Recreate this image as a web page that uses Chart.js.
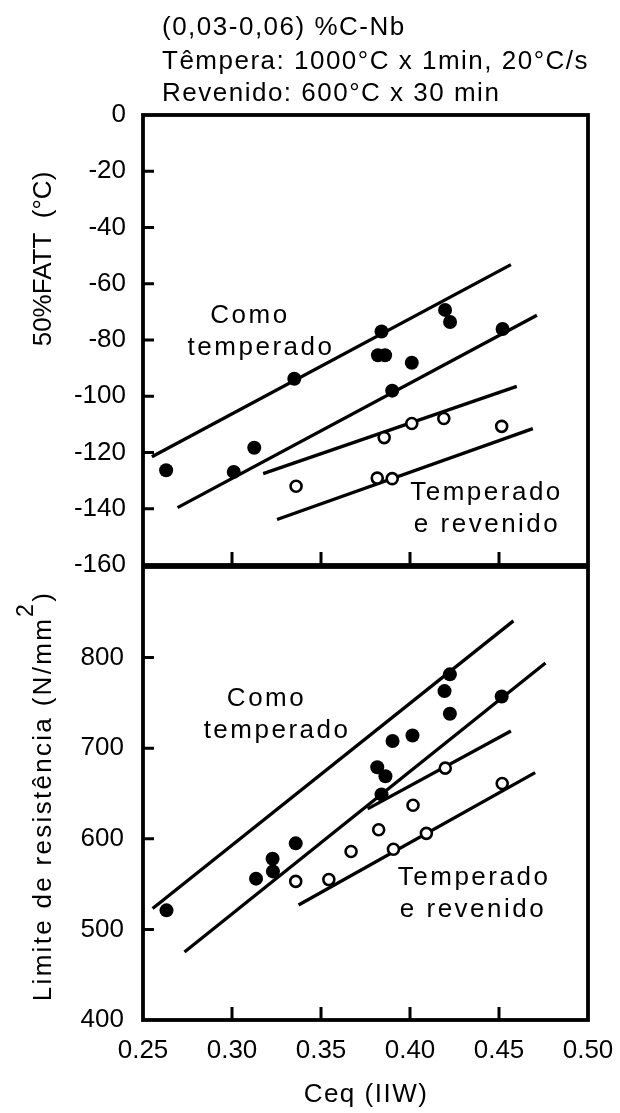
<!DOCTYPE html>
<html>
<head>
<meta charset="utf-8">
<script src="https://cdn.jsdelivr.net/npm/chart.js@4.4.1/dist/chart.umd.min.js"></script>
<style>
  body { margin: 0; background: #fff; }
  #wrap { position: relative; width: 620px; height: 1113px; }
  #fattCanvas { position: absolute; left: 0; top: 0; }
  #strengthCanvas { position: absolute; left: 0; top: 566px; }
</style>
</head>
<body>
<div id="wrap">
  <canvas id="fattCanvas" width="620" height="600"></canvas>
  <canvas id="strengthCanvas" width="620" height="547"></canvas>
</div>
<script>
// ── Data ── //
const ceqTicks = [0.25, 0.30, 0.35, 0.40, 0.45, 0.50];
const fattTicks = [0, -20, -40, -60, -80, -100, -120, -140, -160];
const strengthTicks = [400, 500, 600, 700, 800, 900];

// 50%FATT, como temperado (filled) and temperado e revenido (open)
const fattQuenchedX = [0.263, 0.301, 0.3125, 0.335, 0.384, 0.382, 0.386, 0.390, 0.401, 0.4197, 0.4225, 0.452];
const fattQuenchedY = [-126.3, -126.9, -118.3, -93.8, -77, -85.4, -85.4, -98, -88.1, -69.3, -73.6, -76.1];
const fattTemperedX = [0.336, 0.3816, 0.390, 0.3855, 0.401, 0.419, 0.4515];
const fattTemperedY = [-132, -129.1, -129.3, -114.7, -109.7, -107.9, -110.7];

// 50%FATT fit lines (end points)
const fattFitQuenchedUpX = [0.255, 0.4567];
const fattFitQuenchedUpY = [-121.5, -53.2];
const fattFitQuenchedLowX = [0.2694, 0.4713];
const fattFitQuenchedLowY = [-139.6, -71.2];
const fattFitTemperedUpX = [0.3175, 0.460];
const fattFitTemperedUpY = [-127.5, -96.5];
const fattFitTemperedLowX = [0.3253, 0.469];
const fattFitTemperedLowY = [-143.8, -111.5];

// Limite de resistência
const strQuenchedX = [0.2632, 0.3135, 0.3228, 0.323, 0.3358, 0.3816, 0.3862, 0.384, 0.3902, 0.4014, 0.4194, 0.4224, 0.4224, 0.4515];
const strQuenchedY = [521, 556, 578, 564, 595, 679, 669, 649, 708, 714, 763, 781.5, 738, 757];
const strTemperedX = [0.3358, 0.3544, 0.3669, 0.3824, 0.3907, 0.4017, 0.4092, 0.4198, 0.4518];
const strTemperedY = [553, 555, 586, 610, 588.5, 637, 606, 678, 661];

const strFitQuenchedUpX = [0.2554, 0.4581];
const strFitQuenchedUpY = [523, 840.5];
const strFitQuenchedLowX = [0.2733, 0.4761];
const strFitQuenchedLowY = [475, 794];
const strFitTemperedUpX = [0.3762, 0.4567];
const strFitTemperedUpY = [633, 719];
const strFitTemperedLowX = [0.3374, 0.4703];
const strFitTemperedLowY = [527, 673];

// ── Styles ── //
const FONT = "'Liberation Sans', Arial, Helvetica, sans-serif";
const INK = '#000';

function pts(xs, ys) {
  return xs.map((x, i) => ({ x: x, y: ys[i] }));
}
function filledSet(xs, ys) {
  return { data: pts(xs, ys), showLine: false, pointRadius: 7, pointBackgroundColor: INK, pointBorderColor: INK, pointBorderWidth: 0 };
}
function openSet(xs, ys) {
  return { data: pts(xs, ys), showLine: false, pointRadius: 5.5, pointBackgroundColor: '#fff', pointBorderColor: INK, pointBorderWidth: 2.6 };
}
function fitSet(xs, ys) {
  return { data: pts(xs, ys), showLine: true, borderColor: INK, borderWidth: 3.3, pointRadius: 0, fill: false };
}

// ── Frame with inward tick marks + free text ── //
const figurePlugin = {
  id: 'figure',
  afterDraw(chart) {
    const { ctx, chartArea: a, scales: { x, y } } = chart;
    const cfg = chart.options.plugins.figure;
    ctx.save();
    ctx.strokeStyle = INK;
    ctx.lineWidth = 3.8;
    ctx.strokeRect(a.left, a.top, a.right - a.left, a.bottom - a.top);

    ctx.lineWidth = 3;
    ctx.beginPath();
    cfg.yMarks.forEach(v => {
      const py = y.getPixelForValue(v);
      ctx.moveTo(a.left, py);
      ctx.lineTo(a.left + 11, py);
    });
    ceqTicks.slice(1, -1).forEach(v => {
      const px = x.getPixelForValue(v);
      ctx.moveTo(px, a.bottom);
      ctx.lineTo(px, a.bottom - 13);
    });
    ctx.stroke();

    ctx.fillStyle = INK;
    cfg.texts.forEach(t => {
      ctx.save();
      const size = t.size || 26;
      ctx.font = size + 'px ' + FONT;
      ctx.letterSpacing = (t.spacing || 0) + 'px';
      const px = t.px !== undefined ? t.px : x.getPixelForValue(t.x);
      const py = t.py !== undefined ? t.py : y.getPixelForValue(t.y);
      ctx.translate(px, py);
      if (t.rotate) ctx.rotate(t.rotate);
      ctx.textBaseline = t.baseline || 'alphabetic';
      ctx.textAlign = t.align || 'center';
      if (t.sup) {
        // main text + raised superscript + tail
        ctx.textAlign = 'left';
        const w1 = ctx.measureText(t.text).width;
        ctx.font = t.supSize + 'px ' + FONT;
        const w2 = ctx.measureText(t.sup).width;
        ctx.font = size + 'px ' + FONT;
        const w3 = ctx.measureText(t.tail).width;
        const sx = -(w1 + w2 + w3) / 2;
        ctx.fillText(t.text, sx, 0);
        ctx.font = t.supSize + 'px ' + FONT;
        ctx.fillText(t.sup, sx + w1, -t.supRise);
        ctx.font = size + 'px ' + FONT;
        ctx.fillText(t.tail, sx + w1 + w2, 0);
      } else {
        ctx.fillText(t.text, 0, 0);
      }
      ctx.restore();
    });
    ctx.restore();
  }
};

function setTicks(list) {
  return s => { s.ticks = list.map(v => ({ value: v })); };
}
// fixed axis box: no extra room for overhanging labels
function fixWidth(w) {
  return s => { s.width = w; s.paddingTop = 0; s.paddingBottom = 0; };
}
function fixHeight(h) {
  return s => { s.height = h; s.paddingLeft = 0; s.paddingRight = 0; };
}

const tickFont = { family: FONT, size: 26 };

// ── Upper panel: 50%FATT ── //
new Chart(document.getElementById('fattCanvas'), {
  type: 'scatter',
  data: {
    datasets: [
      filledSet(fattQuenchedX, fattQuenchedY),
      openSet(fattTemperedX, fattTemperedY),
      fitSet(fattFitQuenchedUpX, fattFitQuenchedUpY),
      fitSet(fattFitQuenchedLowX, fattFitQuenchedLowY),
      fitSet(fattFitTemperedUpX, fattFitTemperedUpY),
      fitSet(fattFitTemperedLowX, fattFitTemperedLowY),
    ],
  },
  options: {
    responsive: false,
    animation: false,
    devicePixelRatio: 1,
    layout: { autoPadding: false, padding: { top: 115, right: 32, bottom: 35, left: 0 } },
    scales: {
      x: {
        type: 'linear', min: 0.25, max: 0.5,
        afterBuildTicks: setTicks(ceqTicks),
        ticks: { display: false },
        grid: { display: false, drawTicks: false },
        border: { display: false },
        afterFit: fixHeight(0),
      },
      y: {
        type: 'linear', min: -160, max: 0,
        afterBuildTicks: setTicks(fattTicks),
        ticks: { color: INK, font: tickFont, padding: 17 },
        grid: { display: false, drawTicks: false },
        border: { display: false },
        afterFit: fixWidth(143),
      },
    },
    plugins: {
      legend: { display: false },
      tooltip: { enabled: false },
      figure: {
        yMarks: fattTicks.slice(1, -1),
        texts: [
          { text: '(0,03-0,06) %C-Nb', px: 162, py: 35, align: 'left', spacing: 1.5 },
          { text: 'Têmpera: 1000°C x 1min, 20°C/s', px: 162, py: 69, align: 'left', spacing: 1.5 },
          { text: 'Revenido: 600°C x 30 min', px: 162, py: 101, align: 'left', spacing: 1.5 },
          { text: '50%FATT  (°C)', px: 44, py: 259, rotate: -Math.PI / 2, baseline: 'middle' },
          { text: 'Como', x: 0.3101, y: -73.8, spacing: 2.5 },
          { text: 'temperado', x: 0.3163, y: -85.3, spacing: 2.5 },
          { text: 'Temperado', x: 0.443, y: -136.9, spacing: 2.5 },
          { text: 'e revenido', x: 0.4433, y: -148.2, spacing: 2.5 },
        ],
      },
    },
  },
  plugins: [figurePlugin],
});

// ── Lower panel: Limite de resistência ── //
new Chart(document.getElementById('strengthCanvas'), {
  type: 'scatter',
  data: {
    datasets: [
      filledSet(strQuenchedX, strQuenchedY),
      openSet(strTemperedX, strTemperedY),
      fitSet(strFitQuenchedUpX, strFitQuenchedUpY),
      fitSet(strFitQuenchedLowX, strFitQuenchedLowY),
      fitSet(strFitTemperedUpX, strFitTemperedUpY),
      fitSet(strFitTemperedLowX, strFitTemperedLowY),
    ],
  },
  options: {
    responsive: false,
    animation: false,
    devicePixelRatio: 1,
    layout: { autoPadding: false, padding: { top: 1, right: 32, bottom: 0, left: 0 } },
    scales: {
      x: {
        type: 'linear', min: 0.25, max: 0.5,
        afterBuildTicks: setTicks(ceqTicks),
        ticks: { color: INK, font: tickFont, padding: 15, maxRotation: 0, callback: v => v.toFixed(2) },
        grid: { display: false, drawTicks: false },
        border: { display: false },
        afterFit: fixHeight(93),
      },
      y: {
        type: 'linear', min: 400, max: 900,
        afterBuildTicks: setTicks(strengthTicks),
        ticks: { color: INK, font: tickFont, padding: 19, callback: v => (v === 900 ? '' : v) },
        grid: { display: false, drawTicks: false },
        border: { display: false },
        afterFit: fixWidth(143),
      },
    },
    plugins: {
      legend: { display: false },
      tooltip: { enabled: false },
      figure: {
        yMarks: strengthTicks.slice(1, -1),
        texts: [
          { text: 'Limite de resistência (N/mm', sup: '2', tail: ')', size: 26, supSize: 23, supRise: 17, spacing: 2.3,
            px: 44, py: 230, rotate: -Math.PI / 2, baseline: 'middle' },
          { text: 'Ceq (IIW)', px: 366, py: 529, baseline: 'middle', spacing: 1.5 },
          { text: 'Como', x: 0.3194, y: 746.4, spacing: 2.5 },
          { text: 'temperado', x: 0.3253, y: 711.7, spacing: 2.5 },
          { text: 'Temperado', x: 0.436, y: 549, spacing: 2.5 },
          { text: 'e revenido', x: 0.4354, y: 513.5, spacing: 2.5 },
        ],
      },
    },
  },
  plugins: [figurePlugin],
});
</script>
</body>
</html>
